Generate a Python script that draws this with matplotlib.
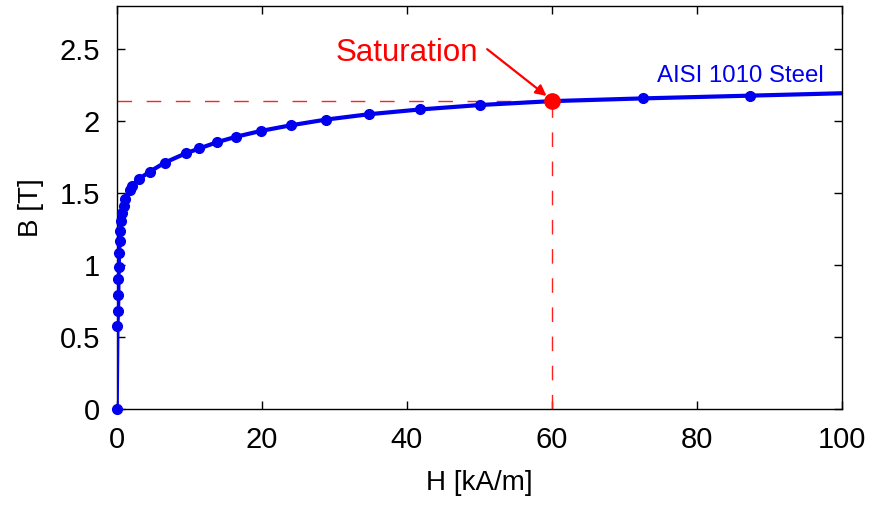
import matplotlib
matplotlib.use("Agg")
import matplotlib.pyplot as plt

plt.rcParams['font.family'] = ['Liberation Sans', 'DejaVu Sans']

# B-H curve of AISI 1010 steel (H in kA/m, B in T)
H = [0, 0.1, 0.18, 0.23, 0.23, 0.28, 0.32, 0.41, 0.51, 0.65, 0.79, 0.97, 1.15,
     1.8, 2.1, 3.1, 4.6, 6.6, 9.5, 11.4, 13.8, 16.5, 19.9, 24.0, 28.9, 34.8,
     41.8, 50.1, 60.0, 72.6, 87.3, 120]
B = [0, 0.575, 0.68, 0.79, 0.90, 0.99, 1.085, 1.17, 1.24, 1.306, 1.36, 1.41,
     1.46, 1.525, 1.55, 1.60, 1.65, 1.711, 1.776, 1.81, 1.853, 1.892, 1.932,
     1.971, 2.011, 2.048, 2.081, 2.112, 2.139, 2.158, 2.177, 2.22]

H_sat = 60.0
B_sat = 2.139

xticks = [0, 20, 40, 60, 80, 100]
yticks = [0, 0.5, 1, 1.5, 2, 2.5]

fig = plt.figure(figsize=(8.73, 5.08), dpi=100)
ax = fig.add_axes([0.1337, 0.1949, 0.8304, 0.7933])

# saturation guide lines
ax.plot([0, H_sat], [B_sat, B_sat], color='#ff2020', lw=1.0, dashes=(10.5, 10.5))
ax.plot([H_sat, H_sat], [0, B_sat], color='#ff2020', lw=1.0, dashes=(10.5, 10.5))

# curve + markers (markers only inside the axis range)
ax.plot(H, B, color='#0000ee', lw=3.0, zorder=3)
hm = [h for h in H if h <= 100]
bm = [b for h, b in zip(H, B) if h <= 100]
ax.plot(hm, bm, 'o', color='#0000ee', ms=7, zorder=4, clip_on=False)
ax.plot([H_sat], [B_sat], 'o', color='#ff0000', ms=11, zorder=5, clip_on=False)

ax.text(40.0, 2.42, 'Saturation', color='#ff0000', fontsize=22.5,
        ha='center', va='baseline')
ax.annotate('', xy=(59.3, 2.175), xytext=(51.1, 2.50),
            arrowprops=dict(arrowstyle='-|>', color='#ff0000', lw=1.6,
                            mutation_scale=16, shrinkA=0, shrinkB=0))
ax.text(97.5, 2.27, 'AISI 1010 Steel', color='#0000ee', fontsize=17.3,
        ha='right', va='baseline')

ax.set_xlim(0, 100)
ax.set_ylim(0, 2.8)
ax.set_xticks(xticks)
ax.set_xticklabels([str(t) for t in xticks])
ax.set_yticks(yticks)
ax.set_yticklabels(['0', '0.5', '1', '1.5', '2', '2.5'])
ax.tick_params(direction='in', length=6, width=1, labelsize=21, pad=12,
               top=True, right=True)
for s in ax.spines.values():
    s.set_linewidth(1.0)

ax.set_xlabel('H [kA/m]', fontsize=20, labelpad=12)
ax.set_ylabel('B [T]', fontsize=20, labelpad=11)

fig.savefig('out.png', dpi=100)
